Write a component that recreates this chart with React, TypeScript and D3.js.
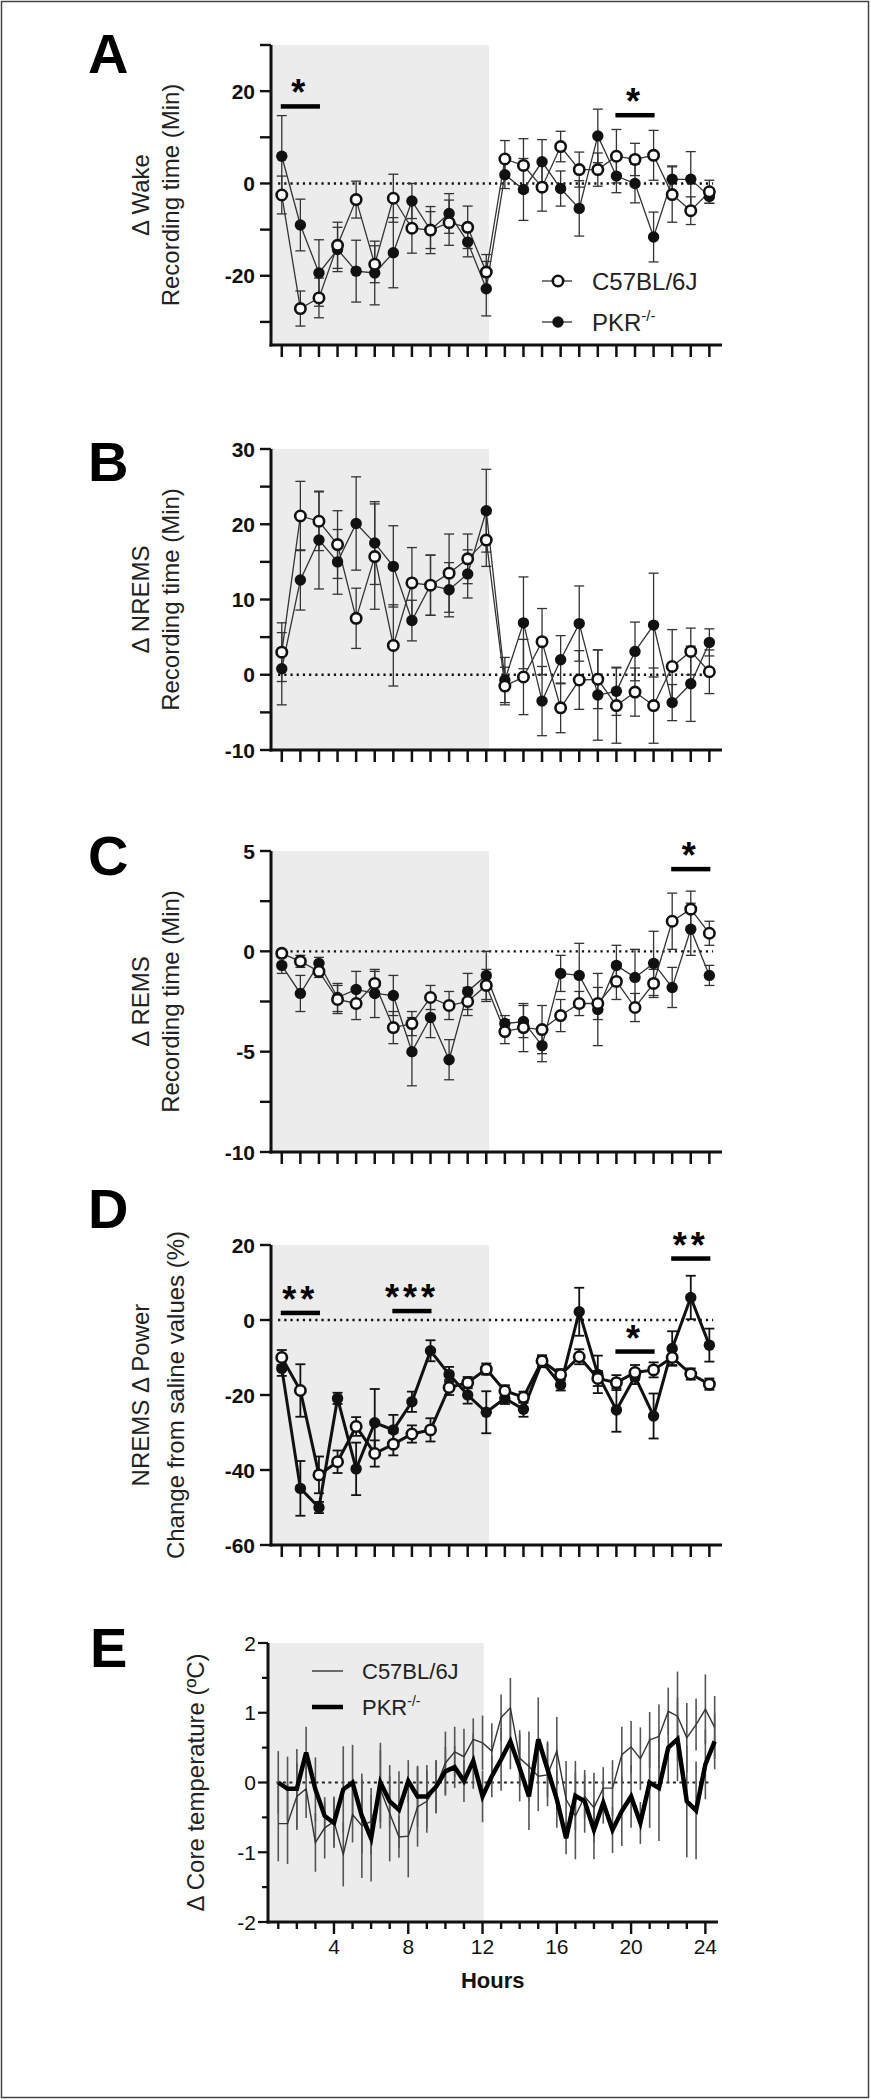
import React from 'react';
import * as d3 from 'd3';

const FONT = "'Liberation Sans', Arial, sans-serif";

// hour categories (x)
const HOURS = d3.range(1, 25);
const HALF_HOURS = d3.range(1, 25, 0.5);

// A: wake
const wakeC57 = [-2.5, -27.1, -24.8, -13.4, -3.5, -17.5, -3.2, -9.7, -10.1, -8.5, -9.5, -19.2, 5.3, 3.9, -0.8, 8.0, 3.0, 3.0, 5.9, 5.2, 6.1, -2.4, -5.9, -1.8];
const wakeC57Sem = [4.1, 3.8, 4.3, 5, 4, 4, 5.2, 5.4, 5.1, 4.9, 4.6, 3.8, 4, 5.8, 5.2, 3.3, 3.8, 3.6, 5.8, 3.5, 5.4, 6, 3, 2.5];
const wakePKR = [5.9, -9.0, -19.4, -14.3, -19.0, -19.4, -15.0, -3.8, -10.1, -6.5, -12.7, -22.8, 1.9, -1.3, 4.7, -1.1, -5.4, 10.3, 1.6, 0, -11.6, 0.9, 0.9, -2.8];
const wakePKRSem = [8.8, 5.6, 7.2, 4.8, 6.7, 6.9, 7.6, 3.8, 4, 4.3, 3.2, 5.9, 3, 6.7, 4.8, 3.8, 6, 5.8, 3.6, 4.2, 5.4, 2.9, 6, 1.5];

// B: NREMS
const nremC57 = [3.0, 21.1, 20.4, 17.3, 7.5, 15.7, 3.9, 12.2, 11.9, 13.5, 15.4, 17.9, -1.5, -0.3, 4.4, -4.4, -0.7, -0.6, -4.1, -2.3, -4.1, 1.1, 3.1, 0.4];
const nremC57Sem = [3.9, 4.6, 3.9, 4.5, 4, 7, 5.4, 4.7, 4, 5.2, 3.3, 3.5, 2.5, 5, 4.4, 3.3, 3.9, 3.9, 5, 3.2, 5, 4.9, 3.1, 2.9];
const nremPKR = [0.8, 12.6, 17.9, 15.0, 20.1, 17.5, 14.4, 7.2, 11.9, 11.3, 13.4, 21.8, -0.7, 6.9, -3.5, 2.0, 6.8, -2.7, -2.2, 3.1, 6.6, -3.7, -1.2, 4.3];
const nremPKRSem = [4.8, 4, 6.5, 4.3, 6.2, 5.5, 5.4, 2.7, 4, 3.6, 3.2, 5.5, 3, 6.1, 4.6, 3.2, 5, 6, 3.2, 3.9, 6.9, 2.4, 5, 1.8];

// C: REMS
const remC57 = [-0.1, -0.5, -1.0, -2.4, -2.6, -1.6, -3.8, -3.6, -2.3, -2.7, -2.5, -1.7, -4.0, -3.8, -3.9, -3.2, -2.6, -2.6, -1.5, -2.8, -1.6, 1.5, 2.1, 0.9];
const remC57Sem = [0.2, 0.3, 0.3, 0.7, 0.8, 0.6, 0.8, 0.6, 0.6, 0.7, 0.7, 0.8, 0.6, 1.2, 1.2, 0.8, 0.6, 0.8, 0.9, 0.7, 0.7, 1.4, 0.9, 0.6];
const remPKR = [-0.7, -2.1, -0.6, -2.3, -1.9, -2.1, -2.2, -5.0, -3.3, -5.4, -2.0, -1.2, -3.6, -3.5, -4.7, -1.1, -1.2, -2.9, -0.7, -1.3, -0.6, -1.8, 1.1, -1.2];
const remPKRSem = [0.4, 0.9, 0.3, 0.7, 0.9, 1.2, 1.0, 1.7, 1.0, 1.0, 0.9, 1.2, 0.4, 0.8, 0.8, 0.9, 1.6, 1.8, 1.0, 1.4, 1.6, 1.0, 1.3, 0.5];

// D: NREMS delta power
const powC57 = [-10.0, -18.8, -41.3, -37.8, -28.4, -35.6, -33.1, -30.4, -29.3, -18.0, -16.7, -13.1, -18.9, -20.6, -10.9, -14.6, -9.8, -15.6, -16.7, -14.0, -13.3, -10.0, -14.4, -17.1];
const powC57Sem = [2, 7, 4.9, 3, 2.5, 3.5, 3, 2.3, 3.1, 2, 1.5, 1.5, 1.5, 1.5, 1.5, 1.5, 2, 2, 2, 2, 2, 2, 1.5, 1.5];
const powPKR = [-12.9, -44.9, -50.0, -20.9, -39.7, -27.4, -29.3, -21.8, -8.2, -14.5, -20.0, -24.6, -20.9, -23.8, -11.1, -17.3, 2.2, -14.5, -24.0, -15.1, -25.6, -7.6, 6.0, -6.7];
const powPKRSem = [2, 7.3, 1.5, 1.5, 7, 9, 4, 2.7, 2.8, 2, 2.3, 5.6, 1.5, 2, 1.5, 1.5, 6.4, 5, 5.8, 2, 6, 4.6, 5.8, 4.4];

// E: core temperature (half-hour bins)
const tempC57 = [-0.59, -0.59, -0.2, -0.09, -0.86, -0.65, -0.56, -1.03, -0.46, -0.62, -0.56, -0.1, -0.44, -0.78, -0.77, -0.35, -0.27, -0.06, 0.28, 0.44, 0.37, 0.62, 0.57, 0.45,
  0.93, 1.07, 0.35, 0.23, 0.09, 0.11, 0.45, -0.24, -0.48, -0.2, -0.36, -0.08, -0.08, 0.4, 0.51, 0.34, 0.61, 0.66, 1.02, 0.95, 0.64, 0.83, 1.05, 0.79];
const tempC57Sem = [0.54, 0.58, 0.48, 0.42, 0.42, 0.44, 0.36, 0.46, 0.4, 0.75, 0.48, 0.56, 0.69, 0.3, 0.59, 0.57, 0.45, 0.38, 0.45, 0.36, 0.4, 0.3, 0.39, 0.4,
  0.33, 0.43, 0.4, 0.5, 0.5, 0.45, 0.49, 0.55, 0.62, 0.31, 0.5, 0.3, 0.4, 0.4, 0.37, 0.45, 0.4, 0.46, 0.34, 0.64, 0.5, 0.37, 0.5, 0.45];
const tempPKR = [0, -0.09, -0.09, 0.43, -0.1, -0.48, -0.58, -0.1, 0, -0.48, -0.8, 0, -0.27, -0.39, 0.02, -0.2, -0.2, -0.06, 0.16, 0.22, 0.02, 0.31, -0.2, 0.09,
  0.33, 0.59, 0.21, -0.2, 0.62, 0.19, -0.24, -0.8, -0.19, -0.27, -0.68, -0.29, -0.68, -0.41, -0.2, -0.58, 0, -0.08, 0.5, 0.62, -0.27, -0.4, 0.26, 0.59];
const tempPKRSem = [0.45, 0.46, 0.57, 0.37, 0.46, 0.2, 0.36, 0.62, 0.54, 0.53, 0.62, 0.57, 0.36, 0.55, 0.3, 0.44, 0.45, 0.38, 0.35, 0.3, 0.3, 0.4, 0.37, 0.3,
  0.45, 0.4, 0.48, 0.48, 0.6, 0.4, 0.41, 0.23, 0.5, 0.45, 0.42, 0.3, 0.33, 0.5, 0.45, 0.3, 0.65, 0.76, 0.5, 0.6, 0.8, 0.7, 0.5, 0.4];

// significance bars: hour range, height in data units
type Sig = { from: number; to: number; y: number; label: string };
const wakeSig: Sig[] = [
  { from: 1, to: 3, y: 16.7, label: '*' },
  { from: 19, to: 21, y: 14.8, label: '*' },
];
const remSig: Sig[] = [{ from: 22, to: 24, y: 4.1, label: '*' }];
const powSig: Sig[] = [
  { from: 1, to: 3, y: 1.9, label: '**' },
  { from: 7, to: 9, y: 2.4, label: '***' },
  { from: 19, to: 21, y: -8.4, label: '*' },
  { from: 22, to: 24, y: 16.4, label: '**' },
];

const xDomain: [number, number] = [0.42, 24.68];
const LIGHT_END = 12.15;

interface PanelProps {
  letter: string;
  letterY: number;
  top: number;
  bottom: number;
  domain: [number, number];
  ticks: number[];
  labels: number[];
  yLabel: string[];
  labelX: number[];
  c57: number[];
  c57Sem: number[];
  pkr: number[];
  pkrSem: number[];
  sig: Sig[];
  heavy?: boolean;
  legend?: boolean;
}

const Panel: React.FC<PanelProps> = (p) => {
  const x = d3.scaleLinear().domain(xDomain).range([271, 722]);
  const y = d3.scaleLinear().domain(p.domain).range([p.bottom, p.top]);
  const lineW = p.heavy ? 3 : 1.3;
  const barW = p.heavy ? 1.8 : 1.3;
  const stroke = p.heavy ? '#111' : '#333';
  const line = d3.line<number>().x((_, i) => x(HOURS[i])).y((d) => y(d));
  const midY = (p.top + p.bottom) / 2;

  const errorBars = (vals: number[], sems: number[], key: string) =>
    vals.map((v, i) => {
      const cx = x(HOURS[i]);
      const y1 = y(v + sems[i]);
      const y2 = y(v - sems[i]);
      return (
        <g key={key + i} stroke={stroke} strokeWidth={barW}>
          <line x1={cx} x2={cx} y1={y1} y2={y2} />
          <line x1={cx - 5} x2={cx + 5} y1={y1} y2={y1} />
          <line x1={cx - 5} x2={cx + 5} y1={y2} y2={y2} />
        </g>
      );
    });

  return (
    <g>
      <text x={88} y={p.letterY} fontFamily={FONT} fontWeight="bold" fontSize={56} fill="#000">{p.letter}</text>
      {p.yLabel.map((t, i) => (
        <text key={t} transform={`translate(${p.labelX[i]},${midY}) rotate(-90)`} textAnchor="middle"
          dominantBaseline="central" fontFamily={FONT} fontSize={24} fill="#222">{t}</text>
      ))}
      <rect x={x(xDomain[0])} y={p.top} width={x(LIGHT_END) - x(xDomain[0])} height={p.bottom - p.top} fill="#ececec" />
      <line x1={x(0.8)} x2={x(24.2)} y1={y(0)} y2={y(0)} stroke="#111" strokeWidth={2.4} strokeDasharray="2.2 4" />
      {errorBars(p.pkr, p.pkrSem, 'pe')}
      {errorBars(p.c57, p.c57Sem, 'ce')}
      <path d={line(p.pkr) ?? ''} fill="none" stroke={stroke} strokeWidth={lineW} />
      <path d={line(p.c57) ?? ''} fill="none" stroke={stroke} strokeWidth={lineW} />
      {p.pkr.map((v, i) => <circle key={'pm' + i} cx={x(HOURS[i])} cy={y(v)} r={5.7} fill="#111" />)}
      {p.c57.map((v, i) => <circle key={'cm' + i} cx={x(HOURS[i])} cy={y(v)} r={5.2} fill="#fff" stroke="#111" strokeWidth={2.6} />)}
      {p.sig.map((s, i) => (
        <g key={'s' + i}>
          <rect x={x(s.from) - 1} y={y(s.y) - 2.2} width={x(s.to) - x(s.from) + 2} height={4.5} fill="#000" />
          <text x={(x(s.from) + x(s.to)) / 2} y={y(s.y) - 1} textAnchor="middle" fontFamily={FONT} fontWeight="bold"
            fontSize={36} letterSpacing={4} fill="#000">{s.label}</text>
        </g>
      ))}
      {/* y axis */}
      <line x1={271} x2={271} y1={p.top} y2={p.bottom + 1.5} stroke="#111" strokeWidth={3} />
      {p.ticks.map((t) => (
        <line key={'yt' + t} x1={260} x2={271} y1={y(t)} y2={y(t)} stroke="#111" strokeWidth={2.4} />
      ))}
      {p.labels.map((t) => (
        <text key={'yl' + t} x={255} y={y(t)} textAnchor="end" dominantBaseline="central" fontFamily={FONT}
          fontWeight="bold" fontSize={21} fill="#111">{t}</text>
      ))}
      {/* x axis */}
      <line x1={269.5} x2={x(xDomain[1])} y1={p.bottom} y2={p.bottom} stroke="#111" strokeWidth={3} />
      {HOURS.map((h) => (
        <line key={'xt' + h} x1={x(h)} x2={x(h)} y1={p.bottom} y2={p.bottom + 12} stroke="#111" strokeWidth={2.5} />
      ))}
      {p.legend && (
        <g fontFamily={FONT} fontSize={24} fill="#222">
          <line x1={542} x2={572} y1={281} y2={281} stroke="#333" strokeWidth={1.3} />
          <circle cx={558} cy={281} r={5.2} fill="#fff" stroke="#111" strokeWidth={2.6} />
          <text x={592} y={290}>C57BL/6J</text>
          <line x1={542} x2={572} y1={322} y2={322} stroke="#333" strokeWidth={1.3} />
          <circle cx={558} cy={322} r={5.7} fill="#111" />
          <text x={592} y={331}>PKR<tspan fontSize={15} dy={-10}>-/-</tspan></text>
        </g>
      )}
    </g>
  );
};

const TempPanel: React.FC = () => {
  const top = 1643;
  const bottom = 1922;
  const x = d3.scaleLinear().domain(xDomain).range([267.5, 718]);
  const y = d3.scaleLinear().domain([-2, 2]).range([bottom, top]);
  const line = d3.line<number>().x((_, i) => x(HALF_HOURS[i])).y((d) => y(d)).curve(d3.curveLinear);
  const yTicks = d3.range(-2, 2.01, 0.5);
  const yLabels = [2, 1, 0, -1, -2];
  const bars = (vals: number[], sems: number[], key: string) =>
    vals.map((v, i) => (
      <line key={key + i} x1={x(HALF_HOURS[i])} x2={x(HALF_HOURS[i])} y1={y(v + sems[i])} y2={y(v - sems[i])}
        stroke="#555" strokeWidth={1.6} />
    ));
  return (
    <g>
      <text x={90} y={1667} fontFamily={FONT} fontWeight="bold" fontSize={56} fill="#000">E</text>
      <text transform={`translate(195,${(top + bottom) / 2}) rotate(-90)`} textAnchor="middle" dominantBaseline="central"
        fontFamily={FONT} fontSize={24} fill="#222">Δ Core temperature (ºC)</text>
      <rect x={x(xDomain[0])} y={top} width={x(12.06) - x(xDomain[0])} height={bottom - top} fill="#ececec" />
      <line x1={x(0.9)} x2={x(24.2)} y1={y(0)} y2={y(0)} stroke="#222" strokeWidth={1.8} strokeDasharray="3 3.5" />
      {bars(tempC57, tempC57Sem, 'cb')}
      {bars(tempPKR, tempPKRSem, 'pb')}
      <path d={line(tempC57) ?? ''} fill="none" stroke="#333" strokeWidth={1.4} />
      <path d={line(tempPKR) ?? ''} fill="none" stroke="#000" strokeWidth={4.5} strokeLinejoin="miter" />
      <g fontFamily={FONT} fontSize={22} fill="#222">
        <line x1={312} x2={343} y1={1671} y2={1671} stroke="#333" strokeWidth={1.4} />
        <text x={362} y={1679}>C57BL/6J</text>
        <line x1={312} x2={343} y1={1707} y2={1707} stroke="#000" strokeWidth={4.5} />
        <text x={362} y={1715}>PKR<tspan fontSize={14} dy={-9}>-/-</tspan></text>
      </g>
      <line x1={268} x2={268} y1={top} y2={bottom + 1.5} stroke="#111" strokeWidth={3} />
      {yTicks.map((t) => (
        <line key={'yt' + t} x1={Number.isInteger(t) ? 258 : 262} x2={268} y1={y(t)} y2={y(t)} stroke="#111" strokeWidth={2.2} />
      ))}
      {yLabels.map((t) => (
        <text key={'yl' + t} x={256} y={y(t)} textAnchor="end" dominantBaseline="central" fontFamily={FONT}
          fontSize={21} fill="#111">{t}</text>
      ))}
      <line x1={266.5} x2={x(xDomain[1])} y1={bottom} y2={bottom} stroke="#111" strokeWidth={3} />
      {HOURS.map((h) => (
        <line key={'xt' + h} x1={x(h)} x2={x(h)} y1={bottom} y2={bottom + (h % 4 === 0 ? 12 : 7)} stroke="#111" strokeWidth={2.4} />
      ))}
      {HOURS.filter((h) => h % 4 === 0).map((h) => (
        <text key={'xl' + h} x={x(h)} y={1954} textAnchor="middle" fontFamily={FONT} fontSize={21} fill="#111">{h}</text>
      ))}
      <text x={(x(xDomain[0]) + x(xDomain[1])) / 2} y={1988} textAnchor="middle" fontFamily={FONT} fontWeight="bold"
        fontSize={22} fill="#111">Hours</text>
    </g>
  );
};

export default function App() {
  return (
    <svg width={871} height={2100} viewBox="0 0 871 2100"
      style={{ position: 'absolute', left: 0, top: 0, display: 'block', background: '#fff' }}>
      <rect x={0} y={0} width={871} height={2100} fill="#fff" />
      <rect x={1.5} y={1.5} width={867} height={2096} fill="none" stroke="#444" strokeWidth={1.5} />
      <Panel letter="A" letterY={73} top={45} bottom={345} domain={[-35, 30]}
        ticks={[30, 20, 10, 0, -10, -20, -30]} labels={[20, 0, -20]}
        yLabel={['Δ Wake', 'Recording time (Min)']} labelX={[140, 170]}
        c57={wakeC57} c57Sem={wakeC57Sem} pkr={wakePKR} pkrSem={wakePKRSem} sig={wakeSig} legend />
      <Panel letter="B" letterY={481} top={449} bottom={750} domain={[-10, 30]}
        ticks={d3.range(-10, 31, 5)} labels={[30, 20, 10, 0, -10]}
        yLabel={['Δ NREMS', 'Recording time (Min)']} labelX={[140, 170]}
        c57={nremC57} c57Sem={nremC57Sem} pkr={nremPKR} pkrSem={nremPKRSem} sig={[]} />
      <Panel letter="C" letterY={875} top={851} bottom={1152} domain={[-10, 5]}
        ticks={d3.range(-10, 5.1, 2.5)} labels={[5, 0, -5, -10]}
        yLabel={['Δ REMS', 'Recording time (Min)']} labelX={[140, 170]}
        c57={remC57} c57Sem={remC57Sem} pkr={remPKR} pkrSem={remPKRSem} sig={remSig} />
      <Panel letter="D" letterY={1228} top={1245} bottom={1545} domain={[-60, 20]}
        ticks={[20, 0, -20, -40, -60]} labels={[20, 0, -20, -40, -60]}
        yLabel={['NREMS Δ Power', 'Change from saline values (%)']} labelX={[140, 175]}
        c57={powC57} c57Sem={powC57Sem} pkr={powPKR} pkrSem={powPKRSem} sig={powSig} heavy />
      <TempPanel />
    </svg>
  );
}
